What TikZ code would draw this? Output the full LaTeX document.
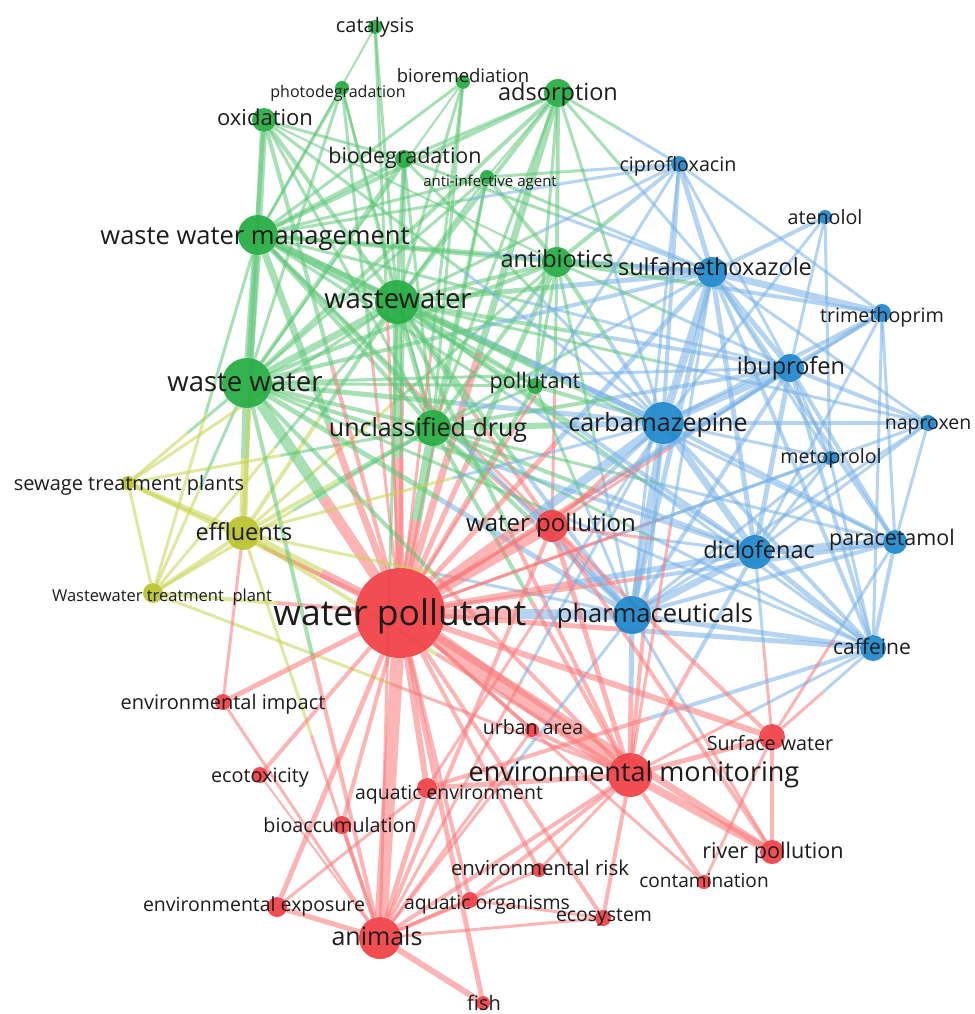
\documentclass[tikz,border=0pt]{standalone}
\usepackage{fontspec}
\setmainfont{Open Sans}
\usepackage{tikz}
\usetikzlibrary{backgrounds,calc}

\definecolor{nodeG}{RGB}{35,172,65}
\definecolor{nodeB}{RGB}{30,135,205}
\definecolor{nodeR}{RGB}{240,62,68}
\definecolor{nodeY}{RGB}{185,195,45}
\definecolor{txt}{RGB}{28,28,28}

\tikzset{
  dot/.style={circle, inner sep=0pt, minimum size=2*#1, fill opacity=0.92},
  gdot/.style={dot=#1, fill=nodeG},
  bdot/.style={dot=#1, fill=nodeB},
  rdot/.style={dot=#1, fill=nodeR},
  ydot/.style={dot=#1, fill=nodeY},
  lbl/.style={font=\fontsize{#1}{#1}\selectfont, text=txt, inner sep=0pt, anchor=mid, yshift={-0.22*#1 pt}},
  link/.style={draw opacity=0.55},
  egg/.style={link, draw={rgb,255:red,95;green,200;blue,120}},
  ebb/.style={link, draw={rgb,255:red,120;green,178;blue,230}},
  err/.style={link, draw={rgb,255:red,250;green,120;blue,120}},
  eyy/.style={link, draw={rgb,255:red,200;green,212;blue,80}},
}

\begin{document}
\begin{tikzpicture}[x=1pt, y=-1pt]
\useasboundingbox (0,0) rectangle (974,1014);

% keywords, green cluster
\node[gdot=7]  (cat)     at (375,27)  {};
\node[gdot=7]  (photo)   at (342,88)  {};
\node[gdot=7]  (biorem)  at (463,82)  {};
\node[gdot=14] (ads)     at (558,93)  {};
\node[gdot=12] (oxi)     at (264,120) {};
\node[gdot=9]  (biodeg)  at (404,159) {};
\node[gdot=7]  (antiinf) at (487,177) {};
\node[gdot=20] (wwm)     at (258,235) {};
\node[gdot=15] (antib)   at (557,262) {};
\node[gdot=22] (ww)      at (397,302) {};
\node[gdot=25] (wsw)     at (247,383) {};
\node[gdot=8]  (poll)    at (535,386) {};
\node[gdot=18] (udrug)   at (433,428) {};
% yellow cluster
\node[ydot=7]  (stp)     at (128,483) {};
\node[ydot=17] (eff)     at (243,533) {};
\node[ydot=10] (wwtp)    at (153,593) {};
% blue cluster
\node[bdot=8]  (cipro)   at (679,164) {};
\node[bdot=7]  (aten)    at (825,217) {};
\node[bdot=15] (sulfa)   at (712,272) {};
\node[bdot=9]  (trim)    at (882,313) {};
\node[bdot=14] (ibu)     at (790,368) {};
\node[bdot=21] (carba)   at (663,423) {};
\node[bdot=8]  (napro)   at (928,423) {};
\node[bdot=7]  (meto)    at (830,458) {};
\node[bdot=17] (dicl)    at (755,552) {};
\node[bdot=12] (para)    at (895,542) {};
\node[bdot=19] (pharm)   at (632,615) {};
\node[bdot=13] (caff)    at (873,648) {};
% red cluster
\node[rdot=16] (wpol)    at (552,526) {};
\node[rdot=45] (wp)      at (400,613) {};
\node[rdot=8]  (envimp)  at (223,702) {};
\node[rdot=7]  (urban)   at (532,730) {};
\node[rdot=13] (surf)    at (772,737) {};
\node[rdot=22] (envmon)  at (630,775) {};
\node[rdot=8]  (ecotox)  at (260,775) {};
\node[rdot=10] (aqenv)   at (427,788) {};
\node[rdot=9]  (bioacc)  at (342,825) {};
\node[rdot=12] (river)   at (772,852) {};
\node[rdot=7]  (envrisk) at (539,870) {};
\node[rdot=7]  (contam)  at (704,882) {};
\node[rdot=10] (envexp)  at (277,907) {};
\node[rdot=8]  (aqorg)   at (470,900) {};
\node[rdot=8]  (ecosys)  at (603,918) {};
\node[rdot=21] (animals) at (380,938) {};
\node[rdot=7]  (fish)    at (483,1003) {};

\begin{pgfonlayer}{background}
\fill[white] (0,0) rectangle (974,1014);
% links inside the green cluster
\foreach \a/\b/\w in {cat/ww/3, cat/wwm/2, photo/wwm/3, photo/ww/3, photo/wsw/3, photo/udrug/2,
  biorem/wwm/3, biorem/ww/3, biorem/wsw/2, biorem/udrug/3, ads/wwm/4, ads/ww/4, ads/wsw/4,
  ads/antib/4, ads/udrug/3, ads/poll/3, biodeg/ads/3, antiinf/ads/2, oxi/wsw/4, oxi/ww/4,
  oxi/udrug/3, oxi/antib/2, oxi/wwm/7, biodeg/wwm/4, biodeg/ww/4, biodeg/wsw/4, biodeg/udrug/3,
  biodeg/oxi/3, antiinf/ww/3, antiinf/wsw/3, antiinf/antib/4, antiinf/udrug/3, antiinf/wwm/3,
  wwm/antib/4, wwm/poll/3, wwm/udrug/4, wwm/ww/8, wwm/wsw/9, ww/wsw/7, ww/udrug/5, ww/antib/4,
  ww/poll/3, wsw/udrug/4, wsw/antib/4, wsw/poll/3, antib/udrug/4, antib/poll/3, udrug/poll/3}
  \draw[egg, line width=\w pt] (\a) -- (\b);
% green to yellow
\foreach \a/\b/\w in {wsw/eff/8, wsw/stp/3, wsw/wwtp/3, ww/eff/4, wwm/eff/4, udrug/eff/4, ww/stp/3,
  wwm/wwtp/3, ww/wwtp/3, udrug/wwtp/3, antib/eff/3, udrug/stp/3}{
  \draw[egg, line width=\w pt] (\a) -- ($(\a)!0.5!(\b)$);
  \draw[eyy, line width=\w pt] ($(\a)!0.5!(\b)$) -- (\b);}
% inside the yellow cluster
\foreach \a/\b/\w in {stp/eff/5, stp/wwtp/3, eff/wwtp/4}
  \draw[eyy, line width=\w pt] (\a) -- (\b);
% yellow to red
\foreach \a/\b/\w in {eff/wp/9, stp/wp/4, wwtp/wp/4, wwtp/envmon/3, eff/envmon/4, eff/animals/3}{
  \draw[eyy, line width=\w pt] (\a) -- ($(\a)!0.5!(\b)$);
  \draw[err, line width=\w pt] ($(\a)!0.5!(\b)$) -- (\b);}
% green to red
\foreach \a/\b/\w in {cat/wp/3, photo/wp/3, biorem/wp/3, ads/wp/7, oxi/wp/4, biodeg/wp/4,
  antiinf/wp/3, wwm/wp/7, ww/wp/9, wsw/wp/11, udrug/wp/10, antib/wp/5, poll/wp/4, wwm/wpol/3,
  ww/wpol/4, udrug/wpol/4, wsw/envmon/4, udrug/envmon/4, ww/envmon/4, antib/wpol/3,
  wsw/animals/4, ww/animals/3}{
  \draw[egg, line width=\w pt] (\a) -- ($(\a)!0.5!(\b)$);
  \draw[err, line width=\w pt] ($(\a)!0.5!(\b)$) -- (\b);}
% green to blue
\foreach \a/\b/\w in {wwm/carba/5, wwm/sulfa/4, wwm/pharm/4, wwm/dicl/3, wwm/ibu/3, ww/carba/6,
  ww/sulfa/5, ww/pharm/4, ww/ibu/4, ww/dicl/4, ww/cipro/3, wsw/carba/5, wsw/pharm/5, wsw/dicl/4,
  wsw/ibu/3, wsw/sulfa/4, antib/sulfa/6, antib/carba/4, antib/cipro/4, antib/trim/4,
  antib/pharm/3, antib/ibu/3, udrug/carba/6, udrug/pharm/4, udrug/dicl/4, udrug/ibu/4,
  udrug/sulfa/3, poll/carba/4, poll/pharm/3, ads/sulfa/3, ads/cipro/3, ads/carba/3,
  biodeg/carba/3, biodeg/sulfa/3, antiinf/sulfa/3, antiinf/cipro/3, oxi/carba/3, wwm/cipro/3,
  ww/para/3, ww/caff/3, ww/napro/3, wsw/caff/3, udrug/caff/3, udrug/para/3}{
  \draw[egg, line width=\w pt] (\a) -- ($(\a)!0.5!(\b)$);
  \draw[ebb, line width=\w pt] ($(\a)!0.5!(\b)$) -- (\b);}
\foreach \a/\b/\w in {eff/pharm/3, eff/carba/3}{
  \draw[eyy, line width=\w pt] (\a) -- ($(\a)!0.5!(\b)$);
  \draw[ebb, line width=\w pt] ($(\a)!0.5!(\b)$) -- (\b);}
% inside the blue cluster
\foreach \a/\b/\w in {cipro/sulfa/5, cipro/carba/4, cipro/ibu/3, cipro/trim/3, cipro/pharm/3,
  aten/sulfa/4, aten/carba/3, aten/meto/3, aten/ibu/3, sulfa/trim/7, sulfa/carba/8, sulfa/ibu/5,
  sulfa/dicl/5, sulfa/para/4, sulfa/caff/4, sulfa/pharm/5, sulfa/napro/3, sulfa/meto/3,
  trim/carba/4, trim/ibu/4, trim/dicl/3, trim/caff/3, trim/para/3, ibu/carba/7, ibu/napro/4,
  ibu/dicl/5, ibu/para/4, ibu/caff/4, ibu/pharm/4, ibu/meto/3, carba/dicl/7, carba/pharm/7,
  carba/para/4, carba/caff/4, carba/napro/4, carba/meto/3, napro/dicl/3, napro/para/3,
  napro/pharm/3, meto/dicl/3, meto/pharm/3, meto/caff/3, dicl/para/8, dicl/caff/5, dicl/pharm/7,
  para/caff/4, para/pharm/4, pharm/caff/5}
  \draw[ebb, line width=\w pt] (\a) -- (\b);
% blue to red
\foreach \a/\b/\w in {carba/wp/9, pharm/wp/10, dicl/wp/6, sulfa/wp/5, ibu/wp/5, cipro/wp/3,
  para/wp/4, caff/wp/5, napro/wp/3, meto/wp/3, trim/wp/3, carba/wpol/4, carba/envmon/4,
  pharm/envmon/5, dicl/envmon/4, dicl/surf/3, caff/aqenv/4, pharm/wpol/4, para/surf/3,
  caff/surf/3, carba/aqenv/3, carba/animals/3, ibu/wpol/3, dicl/wpol/3, pharm/animals/3,
  pharm/river/3, caff/envmon/3, sulfa/envmon/3}{
  \draw[ebb, line width=\w pt] (\a) -- ($(\a)!0.5!(\b)$);
  \draw[err, line width=\w pt] ($(\a)!0.5!(\b)$) -- (\b);}
% inside the red cluster
\foreach \a/\b/\w in {wp/wpol/10, wp/envmon/16, wp/animals/13, wp/envimp/5, wp/urban/4, wp/surf/6,
  wp/ecotox/4, wp/aqenv/6, wp/bioacc/4, wp/river/7, wp/envrisk/4, wp/contam/3, wp/envexp/5,
  wp/aqorg/4, wp/ecosys/4, wp/fish/5, wpol/envmon/5, wpol/animals/4, wpol/surf/4, wpol/river/4,
  envmon/surf/5, envmon/river/8, envmon/urban/4, envmon/contam/4, envmon/ecosys/4,
  envmon/envrisk/3, envmon/aqorg/4, envmon/animals/4, envmon/aqenv/5, surf/river/4, surf/contam/3,
  animals/envexp/5, animals/bioacc/4, animals/aqenv/5, animals/aqorg/4, animals/fish/6,
  animals/ecosys/3, animals/envrisk/3, animals/ecotox/2, envimp/animals/3, envimp/eff/3,
  aqorg/ecosys/3, envexp/aqenv/3, urban/animals/3}
  \draw[err, line width=\w pt] (\a) -- (\b);
\end{pgfonlayer}

% labels
\node[lbl=20]   (cat-l)     at (375,25)  {catalysis};
\node[lbl=16]   (photo-l)   at (338,91)  {photodegradation};
\node[lbl=18.5] (biorem-l)  at (463,76)  {bioremediation};
\node[lbl=23.5] (ads-l)     at (558,93)  {adsorption};
\node[lbl=22]   (oxi-l)     at (265,118) {oxidation};
\node[lbl=21.5] (biodeg-l)  at (405,156) {biodegradation};
\node[lbl=15]   (antiinf-l) at (490,181) {anti-infective agent};
\node[lbl=25.5] (wwm-l)     at (255,236) {waste water management};
\node[lbl=23.5] (antib-l)   at (557,260) {antibiotics};
\node[lbl=27.5] (ww-l)      at (398,300) {wastewater};
\node[lbl=27.5] (wsw-l)     at (245,383) {waste water};
\node[lbl=21.5] (poll-l)    at (535,381) {pollutant};
\node[lbl=25]   (udrug-l)   at (428,428) {unclassified drug};
\node[lbl=20]   (stp-l)     at (129,483) {sewage treatment plants};
\node[lbl=23.5] (eff-l)     at (244,533) {effluents};
\node[lbl=16.5] (wwtp-l)    at (162,595) {Wastewater treatment~ plant};
\node[lbl=19.7] (cipro-l)   at (678,164) {ciprofloxacin};
\node[lbl=19.7] (aten-l)    at (825,217) {atenolol};
\node[lbl=23.5] (sulfa-l)   at (715,268) {sulfamethoxazole};
\node[lbl=19.7] (trim-l)    at (882,315) {trimethoprim};
\node[lbl=23.5] (ibu-l)     at (791,367) {ibuprofen};
\node[lbl=25]   (carba-l)   at (658,423) {carbamazepine};
\node[lbl=19.5] (napro-l)   at (928,423) {naproxen};
\node[lbl=19.6] (meto-l)    at (831,457) {metoprolol};
\node[lbl=23.5] (dicl-l)    at (759,551) {diclofenac};
\node[lbl=21.5] (para-l)    at (892,538) {paracetamol};
\node[lbl=25.5] (pharm-l)   at (655,614) {pharmaceuticals};
\node[lbl=21]   (caff-l)    at (872,647) {caffeine};
\node[lbl=24]   (wpol-l)    at (551,524) {water pollution};
\node[lbl=35.5] (wp-l)      at (400,615) {water pollutant};
\node[lbl=20]   (envimp-l)  at (223,702) {environmental impact};
\node[lbl=19.6] (urban-l)   at (533,728) {urban area};
\node[lbl=19.7] (surf-l)    at (770,743) {Surface water};
\node[lbl=27]   (envmon-l)  at (634,773) {environmental monitoring};
\node[lbl=19.8] (ecotox-l)  at (260,775) {ecotoxicity};
\node[lbl=19.4] (aqenv-l)   at (449,793) {aquatic environment};
\node[lbl=19.7] (bioacc-l)  at (340,825) {bioaccumulation};
\node[lbl=21.6] (river-l)   at (773,851) {river pollution};
\node[lbl=20.4] (envrisk-l) at (540,868) {environmental risk};
\node[lbl=19.1] (contam-l)  at (704,881) {contamination};
\node[lbl=19.5] (envexp-l)  at (254,905) {environmental exposure};
\node[lbl=19.4] (aqorg-l)   at (487,903) {aquatic organisms};
\node[lbl=19.4] (ecosys-l)  at (604,915) {ecosystem};
\node[lbl=25]   (animals-l) at (377,937) {animals};
\node[lbl=20]   (fish-l)    at (484,1003) {fish};
\end{tikzpicture}
\end{document}
